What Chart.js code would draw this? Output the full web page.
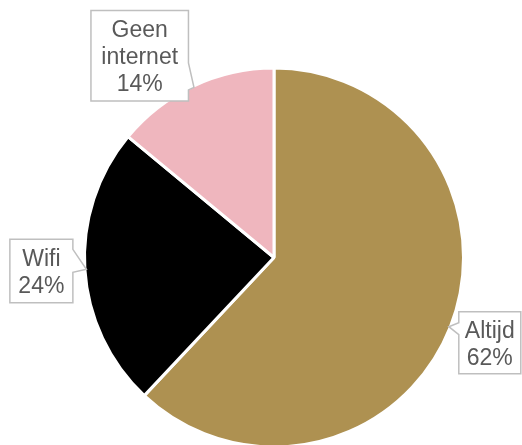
<!DOCTYPE html>
<html>
<head>
<meta charset="utf-8">
<script src="https://cdn.jsdelivr.net/npm/chart.js@4"></script>
<style>
  html, body { margin: 0; padding: 0; background: #fff; }
  #chart { display: block; }
</style>
</head>
<body>
<canvas id="chart" width="522" height="445"></canvas>
<script>
const categories = ["Altijd", "Wifi", "Geen internet"];
const shares = [62, 24, 14];
const sliceColors = ["#AE9151", "#000000", "#EFB6BE"];

// callout boxes, placed relative to the tip on the slice edge
const callouts = [
  { dx: 10, dy: -15, w: 62, h: 62, side: "left", base: [11, 23] },
  { dx: -76.5, dy: -30, w: 63, h: 63.5, side: "right", base: [10, 33] },
  { dx: -103, dy: -77, w: 97.5, h: 90.5, side: "right", base: [52.5, 79.5] },
];

const FONT_SIZE = 23;
const LINE_H = 26.7;

const calloutPlugin = {
  id: "callouts",
  afterDatasetsDraw (chart) {
    const ctx = chart.ctx;
    const meta = chart.getDatasetMeta(0);
    meta.data.forEach((arc, i) => {
      const c = callouts[i];
      const mid = (arc.startAngle + arc.endAngle) / 2;
      const r = arc.outerRadius - 1.5;
      const tx = arc.x + Math.cos(mid) * r;
      const ty = arc.y + Math.sin(mid) * r;
      const x0 = tx + c.dx, y0 = ty + c.dy;
      const x1 = x0 + c.w, y1 = y0 + c.h;

      ctx.save();
      ctx.beginPath();
      ctx.moveTo(x0, y0);
      ctx.lineTo(x1, y0);
      if (c.side === "right") {
        ctx.lineTo(x1, y0 + c.base[0]);
        ctx.lineTo(tx, ty);
        ctx.lineTo(x1, y0 + c.base[1]);
      }
      ctx.lineTo(x1, y1);
      ctx.lineTo(x0, y1);
      if (c.side === "left") {
        ctx.lineTo(x0, y0 + c.base[1]);
        ctx.lineTo(tx, ty);
        ctx.lineTo(x0, y0 + c.base[0]);
      }
      ctx.closePath();
      ctx.fillStyle = "#ffffff";
      ctx.fill();
      ctx.lineWidth = 1.5;
      ctx.strokeStyle = "#BFBFBF";
      ctx.stroke();

      const lines = categories[i].split(" ").concat([shares[i] + "%"]);
      const pad = (c.h - lines.length * LINE_H) / 2;
      ctx.fillStyle = "#595959";
      ctx.font = FONT_SIZE + 'px "Liberation Sans", Arial, sans-serif';
      ctx.textAlign = "center";
      ctx.textBaseline = "alphabetic";
      lines.forEach((txt, k) => {
        const cy = y0 + pad + (k + 0.5) * LINE_H;
        ctx.fillText(txt, (x0 + x1) / 2, cy + FONT_SIZE * 0.37);
      });
      ctx.restore();
    });
  }
};

new Chart(document.getElementById("chart"), {
  type: "pie",
  data: {
    labels: categories,
    datasets: [{
      data: shares,
      backgroundColor: sliceColors,
      borderColor: "#ffffff",
      borderWidth: 3,
      radius: 189.5,
      clip: false,
    }]
  },
  options: {
    responsive: false,
    animation: false,
    layout: { padding: { top: 70, bottom: 0, left: 86, right: 60 } },
    plugins: {
      legend: { display: false },
      tooltip: { enabled: false },
    },
  },
  plugins: [calloutPlugin],
});
</script>
</body>
</html>
